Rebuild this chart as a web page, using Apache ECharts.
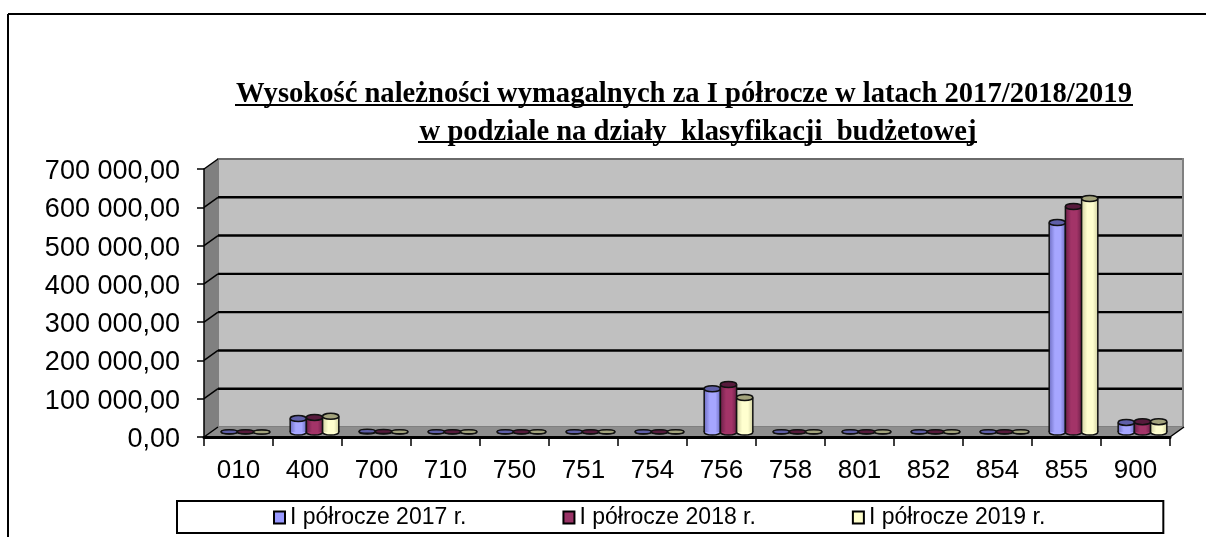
<!DOCTYPE html>
<html>
<head>
<meta charset="utf-8">
<title>Należności wymagalne</title>
<style>
html, body { margin: 0; padding: 0; background: #fff; }
#main { width: 1206px; height: 537px; }
</style>
<script src="https://cdn.jsdelivr.net/npm/echarts@6/dist/echarts.min.js"></script>
</head>
<body>
<div id="main"></div>
<script>
"use strict";

var categories = ["010", "400", "700", "710", "750", "751", "754", "756", "758", "801", "852", "854", "855", "900"];
var seriesNames = ["I półrocze 2017 r.", "I półrocze 2018 r.", "I półrocze 2019 r."];
var values2017 = [500, 35000, 2000, 500, 800, 800, 800, 113000, 800, 800, 800, 800, 547000, 25000];
var values2018 = [400, 38000, 1500, 800, 900, 900, 800, 124000, 800, 800, 800, 700, 589000, 27000];
var values2019 = [300, 41000, 500, 500, 700, 500, 500, 90000, 700, 500, 500, 500, 610000, 27000];
var yTicks = [0, 100000, 200000, 300000, 400000, 500000, 600000, 700000];
var yTickLabels = ["0,00", "100 000,00", "200 000,00", "300 000,00", "400 000,00", "500 000,00", "600 000,00", "700 000,00"];
var titleLines = ["Wysokość należności wymagalnych za I półrocze w latach 2017/2018/2019", "w podziale na działy  klasyfikacji  budżetowej"];

// depth of the fake 3d box, back wall is shifted by this from the front plane
var depthX = 14;
var depthY = -10;
var barWidthRatio = 0.235;

var fills = [
    { side: "#6f6fc4", mid: "#a6a6ff", top: "#5f5fa8" },
    { side: "#6e2049", mid: "#a33468", top: "#571a3c" },
    { side: "#d2d2a2", mid: "#ffffcf", top: "#a3a37c" }
];

function pairs(values) {
    return values.map(function (v, i) {
        return [i, v];
    });
}

function renderWalls(params, api) {
    var c = params.coordSys;
    var left = c.x, right = c.x + c.width, top = c.y, bottom = c.y + c.height;
    return {
        type: "group",
        children: [
            {
                type: "rect",
                shape: { x: left + depthX, y: top + depthY, width: c.width - 1, height: c.height },
                style: { fill: "#c0c0c0", stroke: "#808080", lineWidth: 2 }
            },
            {
                type: "polygon",
                shape: { points: [[left, top], [left + depthX, top + depthY], [left + depthX, bottom + depthY], [left, bottom]] },
                style: { fill: "#808080" }
            },
            {
                type: "polygon",
                shape: { points: [[left, bottom], [left + depthX, bottom + depthY], [right + depthX, bottom + depthY], [right, bottom]] },
                style: { fill: "#8e8e8e" }
            }
        ]
    };
}

function renderGridLine(params, api) {
    var c = params.coordSys;
    var y = api.coord([0, api.value(1)])[1];
    var v = api.value(1);
    var children = [{
        type: "polyline",
        shape: { points: [[c.x, y], [c.x + depthX, y + depthY]] },
        style: { fill: null, stroke: "#000", lineWidth: 1.5 }
    }];
    if (v > 0) {
        children.push({
            type: "line",
            shape: { x1: c.x + depthX, y1: y + depthY, x2: c.x + c.width + depthX - 2, y2: y + depthY },
            style: { stroke: v === 700000 ? "#555" : "#000", lineWidth: v === 700000 ? 1 : 2.4 }
        });
    } else {
        children.push({
            type: "line",
            shape: { x1: c.x + c.width, y1: y, x2: c.x + c.width + depthX, y2: y + depthY },
            style: { stroke: "#000", lineWidth: 1.5 }
        });
    }
    return { type: "group", children: children };
}

function cylinderRenderer(seriesIndex) {
    return function (params, api) {
        var band = api.size([1, 0])[0];
        var w = band * barWidthRatio;
        var base = api.coord([api.value(0), 0]);
        var head = api.coord([api.value(0), api.value(1)]);
        var cx = base[0] + (seriesIndex - 1) * w + depthX / 2;
        var x0 = cx - w / 2;
        var y0 = base[1] + depthY / 2;
        var y1 = head[1] + depthY / 2;
        var ry = y0 - y1 < 4 ? 2 : 3;
        var f = fills[seriesIndex];
        var grad = {
            type: "linear", x: 0, y: 0, x2: 1, y2: 0,
            colorStops: [
                { offset: 0, color: f.side },
                { offset: 0.35, color: f.mid },
                { offset: 0.7, color: f.mid },
                { offset: 1, color: f.side }
            ]
        };
        return {
            type: "group",
            children: [
                {
                    type: "ellipse",
                    shape: { cx: cx, cy: y0, rx: w / 2, ry: ry },
                    style: { fill: f.mid, stroke: "#111", lineWidth: 1.5 }
                },
                {
                    type: "rect",
                    shape: { x: x0, y: y1, width: w, height: y0 - y1 },
                    style: { fill: grad }
                },
                {
                    type: "line",
                    shape: { x1: x0, y1: y1, x2: x0, y2: y0 },
                    style: { stroke: "#111", lineWidth: 1.5 }
                },
                {
                    type: "line",
                    shape: { x1: x0 + w, y1: y1, x2: x0 + w, y2: y0 },
                    style: { stroke: "#111", lineWidth: 1.5 }
                },
                {
                    type: "ellipse",
                    shape: { cx: cx, cy: y1, rx: w / 2, ry: ry },
                    style: { fill: f.top, stroke: "#111", lineWidth: 1.5 }
                }
            ]
        };
    };
}

var chart = echarts.init(document.getElementById("main"));

var options = {
    animation: false,
    backgroundColor: "#fff",
    title: [
        {
            text: titleLines[0],
            left: 679, top: 75, textAlign: "center",
            textStyle: { fontFamily: "Liberation Serif", fontWeight: "bold", fontSize: 28.6, color: "#000" }
        },
        {
            text: titleLines[1],
            left: 693, top: 113, textAlign: "center",
            textStyle: { fontFamily: "Liberation Serif", fontWeight: "bold", fontSize: 28.6, color: "#000" }
        }
    ],
    graphic: [
        // page frame and title underlines
        { type: "line", shape: { x1: 8, y1: 14, x2: 1206, y2: 14 }, style: { stroke: "#000", lineWidth: 2 } },
        { type: "line", shape: { x1: 8, y1: 14, x2: 8, y2: 537 }, style: { stroke: "#000", lineWidth: 2 } },
        { type: "line", shape: { x1: 235, y1: 105, x2: 1133, y2: 105 }, style: { stroke: "#000", lineWidth: 2 } },
        { type: "line", shape: { x1: 418, y1: 142, x2: 977, y2: 142 }, style: { stroke: "#000", lineWidth: 2 } }
    ],
    legend: {
        data: seriesNames,
        left: 177,
        top: 501,
        orient: "horizontal",
        padding: [5, 118, 4, 96],
        borderColor: "#000",
        borderWidth: 2,
        itemWidth: 11,
        itemHeight: 12,
        itemGap: 96,
        icon: "rect",
        textStyle: { fontFamily: "Liberation Sans", fontSize: 23, color: "#000" }
    },
    grid: { left: 204, top: 169, width: 966, height: 268 },
    xAxis: {
        type: "category",
        data: categories,
        axisLine: { show: true, lineStyle: { color: "#000", width: 3 } },
        axisTick: { show: true, length: 9, lineStyle: { color: "#000", width: 1.5 } },
        axisLabel: { margin: 21, fontFamily: "Liberation Sans", fontSize: 26, color: "#000", interval: 0 },
        z: 5
    },
    yAxis: {
        type: "value",
        min: 0,
        max: 700000,
        interval: 100000,
        splitLine: { show: false },
        axisLine: { show: true, lineStyle: { color: "#000", width: 1.5 } },
        axisTick: { show: true, length: 7, lineStyle: { color: "#000", width: 1.5 } },
        axisLabel: {
            margin: 24,
            formatter: function (v) {
                return "{t|" + yTickLabels[yTicks.indexOf(v)] + "}";
            },
            rich: {
                t: {
                    fontFamily: "Liberation Sans",
                    fontSize: 27,
                    color: "#000",
                    padding: [5, 0, 0, 0]
                }
            }
        },
        z: 5
    },
    series: [
        { name: "walls", type: "custom", silent: true, z: 1, clip: false, renderItem: renderWalls, data: [[0, 0]] },
        { name: "gridlines", type: "custom", silent: true, z: 2, clip: false, renderItem: renderGridLine, data: yTicks.map(function (v) { return [0, v]; }) },
        { name: seriesNames[0], type: "custom", z: 3, clip: false, renderItem: cylinderRenderer(0), itemStyle: { color: "#9999ff", borderColor: "#000", borderWidth: 2 }, data: pairs(values2017) },
        { name: seriesNames[1], type: "custom", z: 3, clip: false, renderItem: cylinderRenderer(1), itemStyle: { color: "#993366", borderColor: "#000", borderWidth: 2 }, data: pairs(values2018) },
        { name: seriesNames[2], type: "custom", z: 3, clip: false, renderItem: cylinderRenderer(2), itemStyle: { color: "#ffffcc", borderColor: "#000", borderWidth: 2 }, data: pairs(values2019) }
    ]
};

chart.setOption(options);
</script>
</body>
</html>
